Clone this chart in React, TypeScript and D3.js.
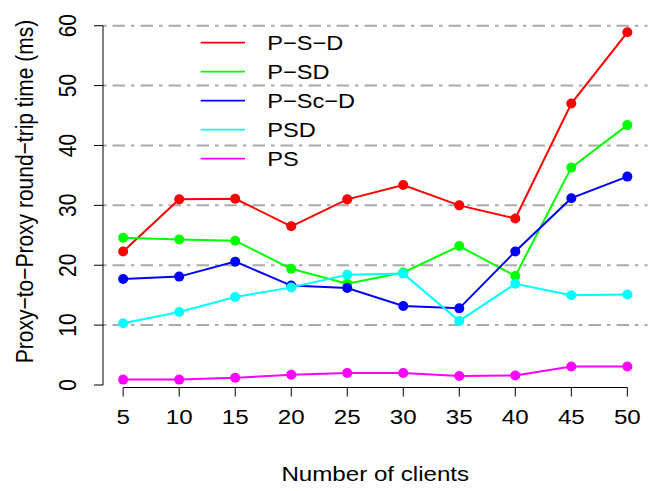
import React from 'react';
import * as d3 from 'd3';

const clients = [5, 10, 15, 20, 25, 30, 35, 40, 45, 50];
const pSD_dash = [22.3, 31.0, 31.1, 26.5, 31.0, 33.4, 30.0, 27.8, 47.0, 58.9];
const pSD = [24.6, 24.3, 24.1, 19.4, 16.9, 18.8, 23.2, 18.2, 36.3, 43.4];
const pScD = [17.7, 18.1, 20.6, 16.6, 16.2, 13.2, 12.8, 22.3, 31.2, 34.8];
const psd = [10.3, 12.2, 14.7, 16.3, 18.4, 18.6, 10.7, 16.9, 15.0, 15.1];
const ps = [0.9, 0.9, 1.2, 1.7, 2.0, 2.0, 1.5, 1.6, 3.1, 3.1];
const yTicks = [0, 10, 20, 30, 40, 50, 60];
const gridTicks = [10, 20, 30, 40, 50, 60];

const series = [
  { name: 'P\u2212S\u2212D', color: '#ff0000', values: pSD_dash },
  { name: 'P\u2212SD', color: '#00ff00', values: pSD },
  { name: 'P\u2212Sc\u2212D', color: '#0000ff', values: pScD },
  { name: 'PSD', color: '#00ffff', values: psd },
  { name: 'PS', color: '#ff00ff', values: ps },
];

const W = 659;
const H = 491;
const font = '"Liberation Sans", Arial, Helvetica, sans-serif';
const FS = 21;
// the original picture looks stretched sideways a bit
const SX = 1.15;

// text placed at (x, y), widened horizontally like the reference
function Txt({ x, y, rot = 0, anchor = 'middle', size = FS, children }:
  { x: number; y: number; rot?: number; anchor?: string; size?: number; children: React.ReactNode }) {
  return (
    <text transform={`translate(${x},${y}) scale(${SX},1) rotate(${rot})`} textAnchor={anchor}
      dominantBaseline="central" fontSize={size}>{children}</text>
  );
}

export default function App() {
  // R-style 4% padding on x
  const x = d3.scaleLinear().domain([5 - 1.8, 50 + 1.8]).range([103, 647.5]);
  const y = d3.scaleLinear().domain([0, 60]).range([385, 25.7]);
  const axisY = y(0) + 2.5;

  const line = d3.line<number>()
    .x((_, i) => x(clients[i]))
    .y(d => y(d));

  return (
    <svg width={W} height={H} style={{ position: 'absolute', left: 0, top: 0, background: '#fff' }}
      fontFamily={font}>
      {gridTicks.map(t => (
        <line key={t} x1={x.range()[0]} x2={x.range()[1]} y1={y(t)} y2={y(t)}
          stroke="#aaaaaa" strokeWidth={2} strokeDasharray="3.5,6,12.5,6" />
      ))}

      {series.map(s => (
        <g key={s.name}>
          <path d={line(s.values) || ''} fill="none" stroke={s.color} strokeWidth={2} />
          {s.values.map((v, i) => (
            <circle key={i} cx={x(clients[i])} cy={y(v)} r={5} fill={s.color} />
          ))}
        </g>
      ))}

      {/* y axis */}
      <line x1={103} x2={103} y1={y(0)} y2={y(60)} stroke="#000" />
      {yTicks.map(t => (
        <g key={t}>
          <line x1={94} x2={103} y1={y(t)} y2={y(t)} stroke="#000" />
          <Txt x={68} y={y(t)} rot={-90}>{t}</Txt>
        </g>
      ))}

      {/* x axis */}
      <line x1={x(5)} x2={x(50)} y1={axisY} y2={axisY} stroke="#000" />
      {clients.map(c => (
        <g key={c}>
          <line x1={x(c)} x2={x(c)} y1={axisY} y2={axisY + 9} stroke="#000" />
          <Txt x={x(c)} y={417}>{c}</Txt>
        </g>
      ))}

      <Txt x={(x.range()[0] + x.range()[1]) / 2} y={474}>Number of clients</Txt>
      <Txt x={25} y={191.5} rot={-90}>
        Proxy{'\u2212'}to{'\u2212'}Proxy round{'\u2212'}trip time (ms)
      </Txt>

      {/* legend */}
      {series.map((s, i) => (
        <g key={s.name}>
          <line x1={200.7} x2={245} y1={42.7 + i * 29} y2={42.7 + i * 29} stroke={s.color} strokeWidth={1.8} />
          <Txt x={267.3} y={42.7 + i * 29} anchor="start" size={20.5}>{s.name}</Txt>
        </g>
      ))}
    </svg>
  );
}
